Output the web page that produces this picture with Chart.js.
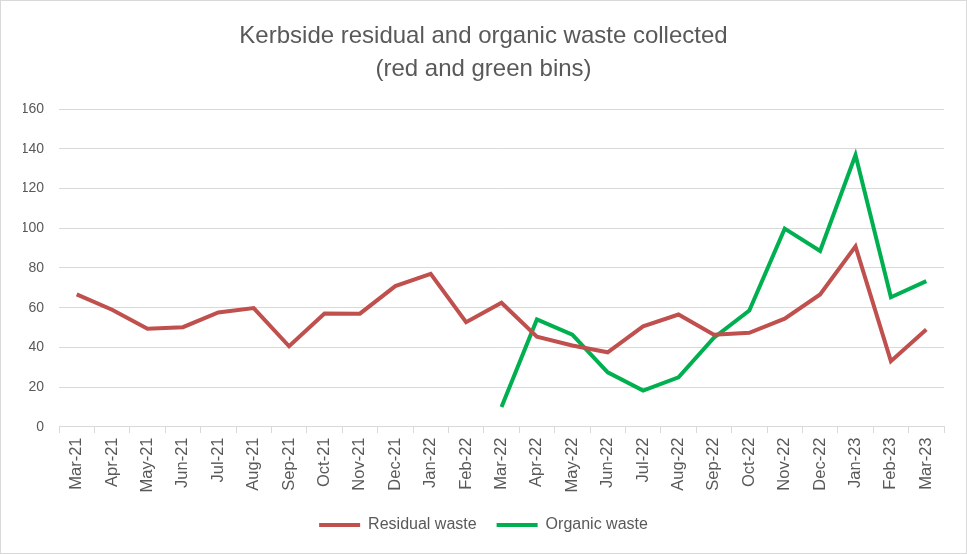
<!DOCTYPE html>
<html>
<head>
<meta charset="utf-8">
<script src="https://cdn.jsdelivr.net/npm/chart.js@4/dist/chart.umd.min.js"></script>
<style>
html,body{margin:0;padding:0;background:#fff;}
#wrap{position:absolute;left:0;top:0;width:965px;height:552px;border:1px solid #d9d9d9;}
</style>
</head>
<body>
<div id="wrap"><canvas id="c" width="965" height="552"></canvas></div>
<script>
const categories = ["Mar-21","Apr-21","May-21","Jun-21","Jul-21","Aug-21","Sep-21","Oct-21","Nov-21","Dec-21","Jan-22","Feb-22","Mar-22","Apr-22","May-22","Jun-22","Jul-22","Aug-22","Sep-22","Oct-22","Nov-22","Dec-22","Jan-23","Feb-23","Mar-23"];
const residualWaste = [66.7,59,49.4,50.2,57.6,59.8,40.6,57.1,57,70.9,77.1,52.7,62.5,45.4,41,37.6,50.6,56.6,46.4,47.4,54.5,66.7,90.9,33.1,49.1];
const organicWaste = [null,null,null,null,null,null,null,null,null,null,null,null,10,54.1,46.5,27.5,18.3,25,44.9,58.6,99.8,88.6,136.8,65.3,73.4];
const titleLines = ["Kerbside residual and organic waste collected","(red and green bins)"];
const yTicks = {min:0,max:160,step:20};

const FONT = "'Liberation Sans', Arial, sans-serif";
Chart.defaults.font.family = FONT;
Chart.defaults.color = '#595959';

new Chart(document.getElementById('c'), {
  type: 'line',
  data: {
    labels: categories,
    datasets: [
      {label:'Residual waste', data: residualWaste, borderColor:'#C0504D', backgroundColor:'#C0504D', borderWidth:4, pointRadius:0, tension:0, spanGaps:false},
      {label:'Organic waste', data: organicWaste, borderColor:'#00B050', backgroundColor:'#00B050', borderWidth:4, pointRadius:0, tension:0, spanGaps:false}
    ]
  },
  options: {
    responsive:false,
    animation:false,
    layout:{padding:{left:22,right:22,top:0,bottom:10}},
    plugins:{
      title:{display:true,text:titleLines,font:{size:24,weight:'normal',family:FONT,lineHeight:1.375},color:'#595959',padding:{top:19,bottom:23}},
      legend:{position:'bottom',labels:{boxWidth:41,boxHeight:4,font:{size:16},color:'#595959',padding:20,
        generateLabels:(chart)=>Chart.defaults.plugins.legend.labels.generateLabels(chart).map(l=>Object.assign(l,{lineWidth:0}))}},
      tooltip:{enabled:false}
    },
    scales:{
      x:{
        offset:true,
        grid:{display:true,offset:true,drawOnChartArea:false,drawTicks:true,tickLength:6,color:'#d9d9d9'},
        border:{color:'#d9d9d9'},
        ticks:{maxRotation:90,minRotation:90,autoSkip:false,font:{size:16.5},color:'#595959',padding:4.5}
      },
      y:{
        min:yTicks.min,max:yTicks.max,
        afterFit:(scale)=>{scale.width = 36;},
        ticks:{stepSize:yTicks.step,font:{size:14},color:'#595959',padding:15},
        grid:{color:'#d9d9d9',drawTicks:false,lineWidth:1},
        border:{display:false}
      }
    }
  }
});
</script>
</body>
</html>
